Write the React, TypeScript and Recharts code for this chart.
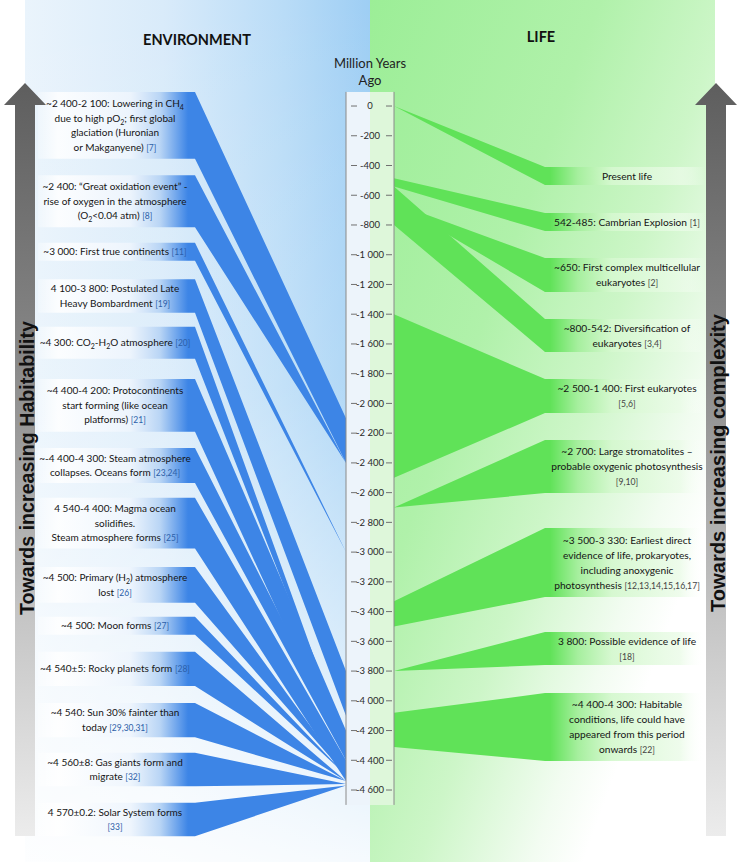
import React from 'react';
import { ComposedChart, Area, XAxis, YAxis, ReferenceArea, ReferenceLine } from 'recharts';

// ENVIRONMENT events (left). "_2" = subscript, "[n]" = reference
const envLabels: string[][] = [
  ['~2 400-2 100: Lowering in CH_4', 'due to high pO_2; first global', 'glaciation (Huronian', 'or Makganyene) [7]'],
  ['~2 400: \u201cGreat oxidation event\u201d -', 'rise of oxygen in the atmosphere', '(O_2<0.04 atm) [8]'],
  ['~3 000: First true continents [11]'],
  ['4 100-3 800: Postulated Late', 'Heavy Bombardment [19]'],
  ['~4 300: CO_2-H_2O atmosphere [20]'],
  ['~4 400-4 200: Protocontinents', 'start forming (like ocean', 'platforms) [21]'],
  ['~-4 400-4 300: Steam atmosphere', 'collapses. Oceans form [23,24]'],
  ['4 540-4 400: Magma ocean', 'solidifies.', 'Steam atmosphere forms [25]'],
  ['~4 500: Primary (H_2) atmosphere', 'lost [26]'],
  ['~4 500: Moon forms [27]'],
  ['~4 540\u00b15: Rocky planets form [28]'],
  ['~4 540: Sun 30% fainter than', 'today [29,30,31]'],
  ['~4 560\u00b18: Gas giants form and', 'migrate [32]'],
  ['4 570\u00b10.2: Solar System forms', '[33]'],
];
// span each event covers on the time axis (million years, negative = ago)
const envFrom = [-2100, -2400, -3000, -3800, -4300, -4200, -4300, -4400, -4500, -4500, -4540, -4540, -4560, -4570];
const envTo = [-2400, -2400, -3000, -4100, -4300, -4400, -4400, -4540, -4500, -4500, -4540, -4540, -4560, -4570];

// LIFE events (right)
const lifeLabels: string[][] = [
  ['Present life'],
  ['542-485: Cambrian Explosion  [1]'],
  ['~650: First complex multicellular', 'eukaryotes [2]'],
  ['~800-542: Diversification of', 'eukaryotes [3,4]'],
  ['~2 500-1 400: First eukaryotes', '[5,6]'],
  ['~2 700: Large  stromatolites \u2013', 'probable oxygenic photosynthesis', '[9,10]'],
  ['~3 500-3 330: Earliest direct', 'evidence of life, prokaryotes,', 'including anoxygenic', 'photosynthesis [12,13,14,15,16,17]'],
  ['3 800: Possible evidence of life', '[18]'],
  ['~4 400-4 300: Habitable', 'conditions, life could have', 'appeared from this period', 'onwards [22]'],
];
const lifeFrom = [0, -485, -650, -542, -1400, -2700, -3330, -3800, -4080];
const lifeTo = [0, -542, -650, -800, -2500, -2700, -3500, -3800, -4310];

const yearTicks = [
  0, -200, -400, -600, -800, -1000, -1200, -1400, -1600, -1800, -2000, -2200,
  -2400, -2600, -2800, -3000, -3200, -3400, -3600, -3800, -4000, -4200, -4400, -4600,
];

// ---- layout ----
const W = 740;
const H = 862;
const Y_DOMAIN: [number, number] = [-5084, 713];
const AXIS_TOP = 95;
const AXIS_BOTTOM = -4700;
// label box slots, in axis units (top, bottom)
const envSlots: [number, number][] = [
  [95, -355], [-465, -815], [-920, -1040], [-1165, -1390], [-1485, -1700], [-1835, -2190], [-2300, -2535],
  [-2635, -2975], [-3100, -3340], [-3435, -3555], [-3670, -3900], [-4015, -4245], [-4350, -4575], [-4685, -4910],
];
const lifeSlots: [number, number][] = [
  [-410, -531], [-720, -841], [-1022, -1251], [-1432, -1654], [-1836, -2065],
  [-2246, -2603], [-2838, -3302], [-3537, -3759], [-3948, -4405],
];
const ENV_END = 38;
const ENV_EDGE = 195;
const AXIS_L = 346;
const AXIS_M = 370;
const AXIS_R = 394;
const LIFE_EDGE = 545;
const LIFE_END = 705;

const BLUE = '#3d85e6';
const GREEN = '#60e258';
const FONT = "Lato, 'Open Sans', sans-serif";

const fmtYear = (v: number) =>
  (v < 0 ? '-' : '') + String(Math.abs(v)).replace(/\B(?=(\d{3})+(?!\d))/g, ' ');

const rich = (line: string, fs: number, refFill: string) => {
  const parts = line.split(/(_\d|\[[\d,]+\])/).filter(Boolean);
  const out: React.ReactNode[] = [];
  let lift = 0;
  parts.forEach((p, k) => {
    if (p[0] === '_') {
      out.push(<tspan key={k} dy={3} fontSize={fs * 0.7}>{p.slice(1)}</tspan>);
      lift = -3;
      return;
    }
    const isRef = p[0] === '[';
    out.push(
      <tspan key={k} dy={lift || undefined} fill={isRef ? refFill : undefined} fontSize={isRef ? fs * 0.85 : undefined}>
        {p}
      </tspan>
    );
    lift = 0;
  });
  return out;
};

const BoxText = (props: any) => {
  const { viewBox, lines, fs, lh, refFill } = props;
  if (!viewBox) return null;
  const cx = viewBox.x + viewBox.width / 2;
  const cy = viewBox.y + viewBox.height / 2;
  return (
    <text textAnchor="middle" fontFamily={FONT} fontSize={fs} fill="#151515">
      {lines.map((ln: string, k: number) => (
        <tspan key={k} x={cx} y={cy + (k - (lines.length - 1) / 2) * lh + fs * 0.35}>
          {rich(ln, fs, refFill)}
        </tspan>
      ))}
    </text>
  );
};

const YearTick = (props: any) => {
  const { y, payload } = props;
  return (
    <g>
      <line x1={351} x2={357} y1={y} y2={y} stroke="#707070" />
      <line x1={386} x2={392} y1={y} y2={y} stroke="#707070" />
      <text x={AXIS_M} y={y} dy="0.35em" textAnchor="middle" fontFamily={FONT} fontSize={9.5} fill="#2a2a2a">
        {fmtYear(payload.value)}
      </text>
    </g>
  );
};

const bandData = (axisX: number, edgeX: number, endX: number, a: number, b: number, slot: [number, number]) => [
  { x: axisX, span: [b, a] },
  { x: edgeX, span: [slot[1], slot[0]] },
  { x: endX, span: [slot[1], slot[0]] },
];

const Arrow = ({ cx, label, len, textY }: { cx: number; label: string; len: number; textY: number }) => (
  <g>
    <path
      d={`M${cx - 10} 105 L${cx - 21} 105 L${cx} 83 L${cx + 21} 105 L${cx + 10} 105 L${cx + 10} 836 L${cx - 10} 836 Z`}
      fill="url(#arrowGrad)"
    />
    <text
      transform={`translate(${cx + 1},${textY}) rotate(-90)`}
      textAnchor="middle"
      dominantBaseline="central"
      fontFamily="'Liberation Sans Narrow', 'Liberation Sans', Arial, sans-serif"
      fontWeight="bold"
      fontSize={21}
      fill="#111"
      textLength={len}
      lengthAdjust="spacingAndGlyphs"
    >
      {label}
    </text>
  </g>
);

export default function App() {
  return (
    <div style={{ position: 'absolute', left: 0, top: 0, width: W, height: H, overflow: 'hidden', background: '#fff' }}>
      <div
        style={{
          position: 'absolute', left: 25, top: 0, width: 345, height: H,
          background:
            'linear-gradient(to bottom, rgba(255,255,255,0) 0%, rgba(255,255,255,0.15) 45%, rgba(255,255,255,0.7) 85%, rgba(255,255,255,0.9) 100%), linear-gradient(to right, #eaf4fc 0%, #d9ebfa 40%, #b9dcf7 75%, #9ecef4 100%)',
        }}
      />
      <div
        style={{
          position: 'absolute', left: 370, top: 0, width: 345, height: H,
          background: 'linear-gradient(110deg, #9cee97 0%, #b0f1aa 35%, #cdf6c8 55%, #f2fcf1 72%, #ffffff 80%)',
        }}
      />
      <div style={{ position: 'absolute', left: 0, top: 0 }}>
        <ComposedChart width={W} height={H} margin={{ top: 0, right: 0, bottom: 0, left: 0 }}>
          <defs>
            <linearGradient id="envGrad" gradientUnits="userSpaceOnUse" x1={0} y1={0} x2={W} y2={0}>
              <stop offset={30 / W} stopColor="#ffffff" stopOpacity={0} />
              <stop offset={58 / W} stopColor="#ffffff" stopOpacity={0.85} />
              <stop offset={130 / W} stopColor="#eef5fd" stopOpacity={0.9} />
              <stop offset={160 / W} stopColor="#b9d5f5" stopOpacity={1} />
              <stop offset={188 / W} stopColor={BLUE} stopOpacity={1} />
              <stop offset={1} stopColor={BLUE} stopOpacity={1} />
            </linearGradient>
            <linearGradient id="lifeGrad" gradientUnits="userSpaceOnUse" x1={0} y1={0} x2={W} y2={0}>
              <stop offset={0} stopColor={GREEN} />
              <stop offset={550 / W} stopColor={GREEN} />
              <stop offset={578 / W} stopColor="#a6ef9e" />
              <stop offset={612 / W} stopColor="#d5f8cf" stopOpacity={0.95} />
              <stop offset={680 / W} stopColor="#eafbe7" stopOpacity={0.8} />
              <stop offset={LIFE_END / W} stopColor="#ffffff" stopOpacity={0} />
            </linearGradient>
          </defs>
          <XAxis type="number" dataKey="x" domain={[1, W]} allowDataOverflow hide />
          <ReferenceArea x1={AXIS_L} x2={AXIS_M} y1={AXIS_BOTTOM} y2={AXIS_TOP} fill="#edf4fb" fillOpacity={1} stroke="none" />
          <ReferenceArea x1={AXIS_M} x2={AXIS_R} y1={AXIS_BOTTOM} y2={AXIS_TOP} fill="#def7da" fillOpacity={1} stroke="none" />
          <ReferenceLine segment={[{ x: AXIS_L, y: AXIS_TOP }, { x: AXIS_L, y: AXIS_BOTTOM }]} stroke="#8a8a8a" />
          <ReferenceLine segment={[{ x: AXIS_R, y: AXIS_TOP }, { x: AXIS_R, y: AXIS_BOTTOM }]} stroke="#8a8a8a" />
          {envLabels.map((_, i) => (
            <Area
              key={`env-${i}`}
              data={bandData(AXIS_L, ENV_EDGE, ENV_END, envFrom[i], envTo[i], envSlots[i])}
              dataKey="span"
              type="linear"
              stroke="none"
              fill="url(#envGrad)"
              fillOpacity={1}
              dot={false}
              activeDot={false}
              legendType="none"
              isAnimationActive={false}
            />
          ))}
          {lifeLabels.map((_, i) => (
            <Area
              key={`life-${i}`}
              data={bandData(AXIS_R, LIFE_EDGE, LIFE_END, lifeFrom[i], lifeTo[i], lifeSlots[i])}
              dataKey="span"
              type="linear"
              stroke="none"
              fill="url(#lifeGrad)"
              fillOpacity={1}
              dot={false}
              activeDot={false}
              legendType="none"
              isAnimationActive={false}
            />
          ))}
          {envLabels.map((lines, i) => (
            <ReferenceArea
              key={`envl-${i}`}
              x1={42}
              x2={188}
              y1={envSlots[i][1]}
              y2={envSlots[i][0]}
              fillOpacity={0}
              stroke="none"
              label={<BoxText lines={lines} fs={10} lh={14.7} refFill="#2c5fa8" />}
            />
          ))}
          {lifeLabels.map((lines, i) => (
            <ReferenceArea
              key={`lifel-${i}`}
              x1={551}
              x2={703}
              y1={lifeSlots[i][1]}
              y2={lifeSlots[i][0]}
              fillOpacity={0}
              stroke="none"
              label={<BoxText lines={lines} fs={10.2} lh={15} refFill="#444" />}
            />
          ))}
          <YAxis
            type="number"
            domain={Y_DOMAIN}
            allowDataOverflow
            ticks={yearTicks}
            interval={0}
            width={1}
            axisLine={false}
            tickLine={false}
            tick={<YearTick />}
          />
        </ComposedChart>
      </div>
      <svg width={W} height={H} style={{ position: 'absolute', left: 0, top: 0, pointerEvents: 'none' }}>
        <defs>
          <linearGradient id="arrowGrad" x1={0} y1={0} x2={0} y2={1}>
            <stop offset={0} stopColor="#5e5e5e" />
            <stop offset={0.35} stopColor="#858585" />
            <stop offset={0.7} stopColor="#c4c4c4" />
            <stop offset={1} stopColor="#ececec" />
          </linearGradient>
        </defs>
        <Arrow cx={25} label="Towards increasing Habitability" len={294} textY={468} />
        <Arrow cx={716} label="Towards increasing complexity" len={298} textY={463} />
        <text x={197} y={40} dy="0.35em" textAnchor="middle" fontFamily={FONT} fontWeight="bold" fontSize={14.5} fill="#111">
          ENVIRONMENT
        </text>
        <text x={541} y={37} dy="0.35em" textAnchor="middle" fontFamily={FONT} fontWeight="bold" fontSize={14.5} fill="#111">
          LIFE
        </text>
        <text textAnchor="middle" fontFamily={FONT} fontSize={13} fill="#222">
          <tspan x={AXIS_M} y={63} dy="0.35em">Million Years</tspan>
          <tspan x={AXIS_M} y={80} dy="0.35em">Ago</tspan>
        </text>
      </svg>
    </div>
  );
}
